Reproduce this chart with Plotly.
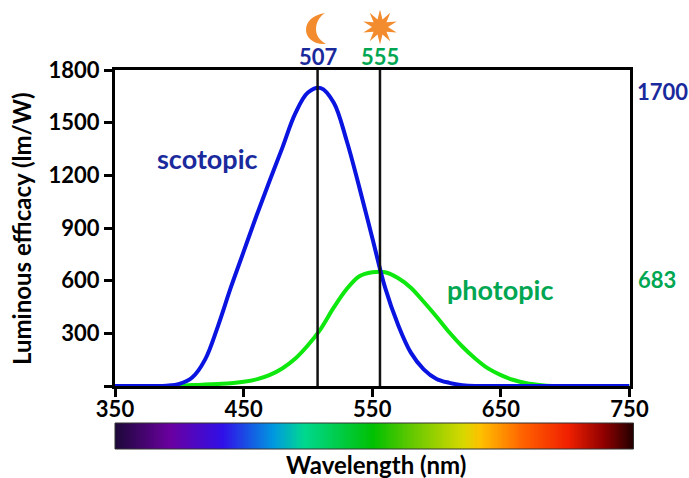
import math
import plotly.graph_objects as go

# ---- data ----
wavelengths = [350, 360, 370, 380, 390, 400, 410, 420, 430, 440, 450, 460, 470, 480, 490, 500, 510, 520, 530, 540,
               550, 560, 570, 580, 590, 600, 610, 620, 630, 640, 650, 660, 670, 680, 690, 700, 710, 720, 730, 740, 750]
scotopic_val = [0, 0, 0, 0, 2, 12, 48, 150, 340, 560, 765, 970, 1165, 1355, 1550, 1672, 1697, 1615, 1400, 1130,
                845, 560, 350, 190, 95, 40, 18, 5, 0, 0, 0, 0, 0, 0, 0, 0, 0, 0, 0, 0, 0]
photopic_val = [0, 0, 0, 0, 0, 2, 5, 8, 12, 16, 24, 38, 62, 100, 155, 232, 326, 446, 551, 625,
                648, 648, 615, 560, 480, 395, 305, 225, 157, 100, 62, 34, 16, 6, 0, 0, 0, 0, 0, 0, 0]
peak_lines = [507.5, 556]
peak_labels = ["507", "555"]
x_ticks = [350, 450, 550, 650, 750]
y_ticks = [0, 300, 600, 900, 1200, 1500, 1800]
y_tick_labels = ["", "300", "600", "900", "1200", "1500", "1800"]
spectrum_pos = [0, 0.106, 0.208, 0.305, 0.363, 0.498, 0.57, 0.672, 0.705, 0.788, 0.873, 0.942, 1]
spectrum_col = ["#1c0838", "#6a00a0", "#3010e8", "#0098e0", "#00d890", "#00c000", "#60c800",
                "#d8d800", "#ffc000", "#ff6000", "#f02000", "#900000", "#200000"]

W, H = 689, 478
L, R, T, B = 115, 50, 70, 20
PW, PH = W - L - R, H - T - B
FONT = "Lato"
BLUE_TXT, GREEN_TXT, ORANGE = "#1a2a9c", "#00a651", "#f28c2e"

def px(x):
    return (x - L) / PW

def py(y):
    return (H - B - y) / PH

fig = go.Figure()
fig.add_trace(go.Scatter(x=wavelengths, y=photopic_val, mode="lines", cliponaxis=False,
                         line=dict(color="#0ee80e", width=4, shape="spline", smoothing=1)))
fig.add_trace(go.Scatter(x=wavelengths, y=scotopic_val, mode="lines", cliponaxis=False,
                         line=dict(color="#0a14e0", width=4, shape="spline", smoothing=1)))
n = 261
fig.add_trace(go.Heatmap(z=[[i / (n - 1) for i in range(n)]], x=[i / (n - 1) for i in range(n)], y=[0],
                         xaxis="x2", yaxis="y2", showscale=False, zmin=0, zmax=1,
                         colorscale=[[p, c] for p, c in zip(spectrum_pos, spectrum_col)]))

for x in peak_lines:
    fig.add_shape(type="line", xref="x", yref="y", x0=x, x1=x, y0=0, y1=1800,
                  line=dict(color="#111111", width=2.5), layer="above")
fig.add_shape(type="rect", xref="paper", yref="paper", x0=px(115), x1=px(633.5), y0=py(449), y1=py(423),
              line=dict(color="#333333", width=1), layer="above")

# decorative icons (moon and sun)
def pt(x, y):
    return f"{px(x):.5f},{py(y):.5f}"

moon = (f"M {pt(325, 13)} C {pt(312, 15)} {pt(306, 22)} {pt(306, 30)} "
        f"C {pt(306, 38)} {pt(314, 45)} {pt(326, 44)} "
        f"C {pt(319, 40)} {pt(316, 35)} {pt(316, 29)} "
        f"C {pt(316, 23)} {pt(319, 17)} {pt(325, 13)} Z")
fig.add_shape(type="path", xref="paper", yref="paper", path=moon, fillcolor=ORANGE, line=dict(width=0), layer="above")
spikes = 10
star = []
for i in range(spikes * 2):
    r = 17.5 if i % 2 == 0 else 8
    a = math.pi * i / spikes - math.pi / 2
    star.append(pt(380 + r * math.cos(a), 27 + r * math.sin(a)))
fig.add_shape(type="path", xref="paper", yref="paper", path="M " + " L ".join(star) + " Z",
              fillcolor=ORANGE, line=dict(width=0), layer="above")

def note(text, x, y, color, size=21, weight=700, angle=0):
    fig.add_annotation(text=text, xref="paper", yref="paper", x=px(x), y=py(y), showarrow=False,
                       xanchor="center", yanchor="middle", textangle=angle,
                       font=dict(family=FONT, size=size, color=color, weight=weight))

note("scotopic", 207, 158, BLUE_TXT, 27)
note("photopic", 500, 289, GREEN_TXT, 27)
note("1700", 662, 91, BLUE_TXT, 22)
note("683", 657, 279, GREEN_TXT, 22)
note(peak_labels[0], 318, 57, BLUE_TXT, 22)
note(peak_labels[1], 380, 57, GREEN_TXT, 22)
note("Luminous efficacy (lm/W)", 21, 229, "#000000", 24, angle=-90)
note("Wavelength (nm)", 376, 464, "#000000", 24)

axis_common = dict(showgrid=False, zeroline=False, showline=True, linecolor="#000000", linewidth=3,
                   mirror=True, ticks="outside", ticklen=8, tickwidth=2.5, tickcolor="#000000",
                   tickfont=dict(family=FONT, size=22, color="#000000", weight=700), layer="below traces")
fig.update_layout(
    width=W, height=H, margin=dict(l=L, r=R, t=T, b=B), autosize=False, showlegend=False,
    paper_bgcolor="#ffffff", plot_bgcolor="#ffffff",
    xaxis=dict(range=[350, 750], domain=[0, 514.5 / PW], anchor="y", tickmode="array", tickvals=x_ticks,
               ticklabelstandoff=-6, **axis_common),
    yaxis=dict(range=[0, 1800], domain=[py(386), 1], anchor="x", tickmode="array", tickvals=y_ticks,
               ticktext=y_tick_labels, **axis_common),
    xaxis2=dict(range=[0, 1], domain=[0, 518.5 / PW], anchor="y2", visible=False),
    yaxis2=dict(range=[-0.5, 0.5], domain=[py(449), py(423)], anchor="x2", visible=False),
)
fig.write_html("out.html", config={"displayModeBar": False},
               post_script="document.body.style.margin='0';document.documentElement.style.overflow='hidden';")
